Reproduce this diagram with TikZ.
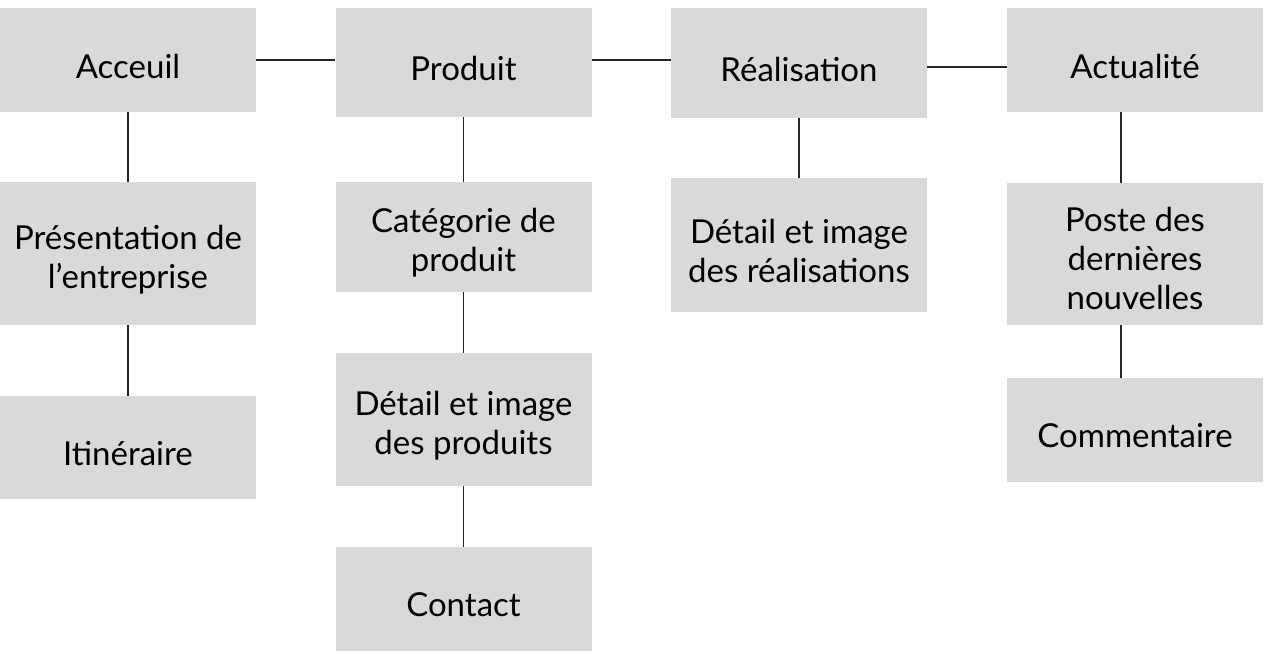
\documentclass[tikz,border=0pt]{standalone}
\usepackage{fontspec}
\setmainfont{Lato}
\definecolor{boxgray}{HTML}{D9D9D9}
\tikzset{
x=0.5pt, y=-0.5pt, % one unit is one pixel of the sketch, y going down
page/.style={fill=boxgray, inner sep=0pt, minimum width=128pt}, % sets the properties for each page box
caption/.style={align=center, inner sep=0pt, yshift=-3pt,
  font=\fontsize{16.5}{19.5}\selectfont}, % the text sits a little low in each box
link/.style={draw=black!85, line width=0.7pt}, % the lines between pages
}
\begin{document}
\begin{tikzpicture}
      \useasboundingbox (0,0) rectangle (1264,655);

      % top menu
      \node[page, minimum height=52pt, label={[caption]center:Acceuil}] (acc) at (128,60) {};
      \node[page, minimum height=54.5pt, label={[caption]center:Produit}] (prod) at (463.5,62.5) {};
      \node[page, minimum height=55pt, label={[caption]center:Réalisation}] (real) at (799,63) {};
      \node[page, minimum height=52pt, label={[caption]center:Actualité}] (actu) at (1135,60) {};

      % sub pages
      \node[page, minimum height=71.5pt, label={[caption]center:Présentation de\\l’entreprise}] (pres) at (128,253.5) {};
      \node[page, minimum height=51.5pt, label={[caption]center:Itinéraire}] (itin) at (128,447.5) {};

      \node[page, minimum height=55pt, label={[caption]center:Catégorie de\\produit}] (cat) at (463.5,237) {};
      \node[page, minimum height=66.5pt, label={[caption]center:Détail et image\\des produits}] (detp) at (463.5,419.5) {};
      \node[page, minimum height=52pt, label={[caption]center:Contact}] (cont) at (463.5,599) {};

      \node[page, minimum height=67pt, label={[caption]center:Détail et image\\des réalisations}] (detr) at (799,245) {};

      \node[page, minimum height=71pt, label={[caption, yshift=1pt]center:Poste des\\dernières\\nouvelles}] (post) at (1135,254) {};
      \node[page, minimum height=52pt, label={[caption]center:Commentaire}] (comm) at (1135,430) {};

      \draw[link] (acc.east) -- (acc.east -| prod.west);
      \draw[link] (acc.east -| prod.east) -- (acc.east -| real.west);
      \draw[link] ([yshift=-2pt]real.east) -- ([yshift=-2pt]real.east -| actu.west);

      \draw[link] (acc) -- (pres) (pres) -- (itin);
      \draw[link] (prod) -- (cat) (cat) -- (detp) (detp) -- (cont);
      \draw[link] (real) -- (detr);
      \draw[link] ([xshift=-7pt]actu.south) -- ([xshift=-7pt]post.north);
      \draw[link] ([xshift=-7pt]post.south) -- ([xshift=-7pt]comm.north);
    \end{tikzpicture}
\end{document}
